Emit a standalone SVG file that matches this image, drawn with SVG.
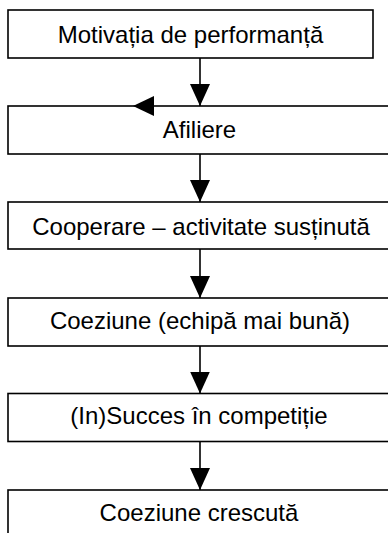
<svg xmlns="http://www.w3.org/2000/svg" width="388" height="533" viewBox="0 0 388 533">
<defs>
<marker id="ah" markerWidth="22" markerHeight="20" refX="22" refY="10" orient="auto" markerUnits="userSpaceOnUse" viewBox="0 0 22 20">
<path d="M0,0 L22,10 L0,20 Z" fill="#000"/>
</marker>
</defs>
<style>
.box{fill:#fff;stroke:#000;stroke-width:1.6}
.lbl{font-family:"Liberation Sans",Arial,sans-serif;font-size:24px;fill:#000;text-anchor:middle}
.con{stroke:#000;stroke-width:1.6;fill:none}
</style>
<rect width="388" height="533" fill="#fff"/>
<g id="n1"><rect class="box" x="8" y="10" width="365" height="48"/><text class="lbl" x="190.5" y="43">Motivația de performanță</text></g>
<g id="n2"><rect class="box" x="8" y="106" width="392" height="48"/><text class="lbl" x="199.5" y="138">Afiliere</text></g>
<g id="n3"><rect class="box" x="8" y="202" width="392" height="47"/><text class="lbl" x="201" y="235">Cooperare – activitate susținută</text></g>
<g id="n4"><rect class="box" x="8" y="298" width="392" height="48"/><text class="lbl" x="200" y="329">Coeziune (echipă mai bună)</text></g>
<g id="n5"><rect class="box" x="8" y="393.5" width="392" height="48"/><text class="lbl" x="199" y="424">(In)Succes în competiție</text></g>
<g id="n6"><rect class="box" x="8" y="490" width="392" height="60"/><text class="lbl" x="199" y="521">Coeziune crescută</text></g>
<g id="connectors">
<path class="con" d="M200,58 V106" marker-end="url(#ah)"/>
<path class="con" d="M200,154 V202" marker-end="url(#ah)"/>
<path class="con" d="M200,249 V298" marker-end="url(#ah)"/>
<path class="con" d="M200,346 V393.5" marker-end="url(#ah)"/>
<path class="con" d="M200,441.5 V490" marker-end="url(#ah)"/>
<polygon points="133,106 154,96 154,116" fill="#000"/>
</g>
</svg>
